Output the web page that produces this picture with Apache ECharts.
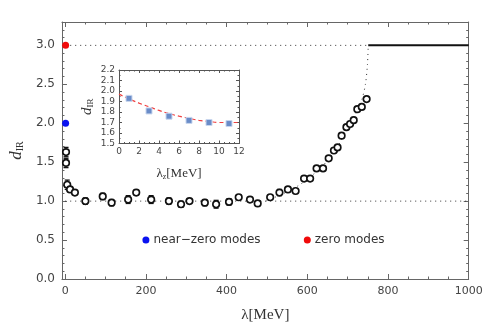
<!DOCTYPE html>
<html><head><meta charset="utf-8">
<script src="https://cdn.jsdelivr.net/npm/echarts@6/dist/echarts.min.js"></script>
<style>html,body{margin:0;padding:0;background:#fff}#c{width:491px;height:328px}</style>
</head><body><div id="c"></div>
<script>
// Main data: lambda [MeV], d_IR, error
const lam = [2, 2, 5, 12, 24, 50, 93, 115, 156, 176, 213, 257, 287, 308, 346, 374, 406, 430, 458, 477, 508, 531, 552, 571, 592, 607, 623, 639, 653, 666, 675, 685, 697, 706, 715, 724, 735, 747];
const dIR = [1.63, 1.49, 1.21, 1.15, 1.11, 1.00, 1.06, 0.98, 1.02, 1.11, 1.02, 1.00, 0.96, 1.00, 0.98, 0.96, 0.99, 1.05, 1.02, 0.97, 1.05, 1.11, 1.15, 1.13, 1.29, 1.29, 1.42, 1.42, 1.55, 1.65, 1.69, 1.84, 1.95, 1.99, 2.04, 2.18, 2.21, 2.31];
const dErr = [0.06, 0.06, 0.06, 0.03, 0.02, 0.04, 0.04, 0.04, 0.05, 0.03, 0.05, 0.04, 0.04, 0.03, 0.04, 0.05, 0.04, 0.03, 0.02, 0.03, 0.02, 0.04, 0.03, 0.03, 0.02, 0.02, 0.02, 0.02, 0.02, 0.02, 0.02, 0.02, 0.02, 0.02, 0.02, 0.02, 0.02, 0.02];
// Dotted curve (fit) up to d=3
const curveX = [497, 520, 550, 575, 600, 625, 650, 675, 700, 720, 735, 744, 749, 751];
const curveY = [1.00, 1.05, 1.12, 1.19, 1.28, 1.39, 1.52, 1.70, 1.93, 2.12, 2.30, 2.50, 2.75, 3.00];
// Reference lines
const lineOneX = [0, 1000];
const lineOneY = [1, 1];
const lineThreeDotX = [0, 751];
const lineThreeSolidX = [751, 1000];
const lineThreeY = [3, 3];
// Special points
const zeroModeX = 1, zeroModeY = 3.0;
const nearZeroX = 1, nearZeroY = 2.0;
// In-plot key
const keyX = [200, 600];
const keyY = [0.5, 0.5];
const keyText = ['near\u2212zero modes', 'zero modes'];
const keyColor = ['#0a12f0', '#f00a0a'];
// Inset data
const insX = [1, 3, 5, 7, 9, 11];
const insY = [1.93, 1.81, 1.76, 1.72, 1.70, 1.69];
const insErr = [0.01, 0.01, 0.01, 0.01, 0.01, 0.01];
const insFitX = [0, 1, 2, 3, 4, 5, 6, 7, 8, 9, 10, 11, 12];
const insFitY = [1.97, 1.925, 1.885, 1.85, 1.815, 1.785, 1.76, 1.74, 1.72, 1.71, 1.70, 1.70, 1.70];
// Ticks
const xMajor = [0, 200, 400, 600, 800, 1000];
const yMajor = [0, 0.5, 1.0, 1.5, 2.0, 2.5, 3.0];
const xMinor = []; for (let i = 0; i <= 20; i++) xMinor.push(i * 50);
const yMinor = []; for (let i = 0; i <= 33; i++) yMinor.push(Math.round(i) / 10);

const axisCol = '#666';
const labCol = '#444';
const tickFont = {fontFamily: 'DejaVu Sans', fontSize: 11, color: labCol};

function mkX(grid, pos, vals, len, show, extra) {
  return Object.assign({
    type: 'value', gridIndex: grid, position: pos, min: -8, max: 1000,
    axisLine: {show: show, onZero: false, lineStyle: {color: axisCol, width: 1}},
    axisTick: {show: true, inside: true, length: len, customValues: vals, lineStyle: {color: axisCol}},
    axisLabel: {show: false, customValues: vals},
    splitLine: {show: false}
  }, extra || {});
}
function mkY(grid, pos, vals, len, show, extra) {
  return Object.assign({
    type: 'value', gridIndex: grid, position: pos, min: 0, max: 3.3,
    axisLine: {show: show, onZero: false, lineStyle: {color: axisCol, width: 1}},
    axisTick: {show: true, inside: true, length: len, customValues: vals, lineStyle: {color: axisCol}},
    axisLabel: {show: false, customValues: vals},
    splitLine: {show: false}
  }, extra || {});
}

const insAx = (pos, isX, labels) => {
  const base = {
    type: 'value', gridIndex: 1, position: pos,
    axisLine: {show: true, onZero: false, lineStyle: {color: '#555', width: 1}},
    axisTick: {show: true, inside: true, length: 3, lineStyle: {color: '#555'}},
    minorTick: {show: true, splitNumber: isX ? 4 : 2, length: 1.5, lineStyle: {color: '#555'}},
    axisLabel: {show: labels, fontFamily: 'DejaVu Sans', fontSize: 9, color: labCol, margin: 4},
    splitLine: {show: false}
  };
  if (isX) { base.min = 0; base.max = 12; base.interval = 2; }
  else { base.min = 1.5; base.max = 2.2; base.interval = 0.1;
    base.axisLabel.formatter = v => v.toFixed(1); }
  return base;
};

const mainPts = lam.map((x, i) => [x, dIR[i], dErr[i]]);
const insPts = insX.map((x, i) => [x, insY[i], insErr[i]]);

function errRender(capW, col, lw) {
  return function (params, api) {
    const x = api.value(0), y = api.value(1), e = api.value(2);
    const top = api.coord([x, y + e]);
    const bot = api.coord([x, y - e]);
    return {
      type: 'group',
      children: [
        {type: 'line', shape: {x1: top[0], y1: top[1], x2: bot[0], y2: bot[1]}, style: {stroke: col, lineWidth: lw}},
        {type: 'line', shape: {x1: top[0] - capW, y1: top[1], x2: top[0] + capW, y2: top[1]}, style: {stroke: col, lineWidth: lw}},
        {type: 'line', shape: {x1: bot[0] - capW, y1: bot[1], x2: bot[0] + capW, y2: bot[1]}, style: {stroke: col, lineWidth: lw}}
      ]
    };
  };
}

const chart = echarts.init(document.getElementById('c'), null, {renderer: 'canvas'});
chart.setOption({
  animation: false,
  backgroundColor: '#fff',
  grid: [
    {left: 46.7, right: 22.3, top: 22, bottom: 45.3},
    {left: 119, top: 70, width: 120, height: 73.5}
  ],
  xAxis: [
    mkX(0, 'bottom', xMajor, 5, true, {
      axisLabel: {show: true, customValues: xMajor, ...tickFont, margin: 7, formatter: v => String(v)},
      name: '\u03bb[MeV]', nameLocation: 'middle', nameGap: 29,
      nameTextStyle: {fontFamily: 'Liberation Serif', fontSize: 15, color: '#333'}
    }),
    mkX(0, 'top', xMajor, 5, true),
    mkX(0, 'bottom', xMinor, 2.5, false),
    mkX(0, 'top', xMinor, 2.5, false),
    Object.assign(insAx('bottom', true, true), {
      name: '{l|\u03bb}{s|z}{l|[MeV]}', nameLocation: 'middle', nameGap: 22,
      nameTextStyle: {rich: {
        l: {fontFamily: 'Liberation Serif', fontSize: 13, color: '#333', lineHeight: 15, verticalAlign: 'bottom'},
        s: {fontFamily: 'Liberation Serif', fontSize: 8, color: '#333', lineHeight: 11, verticalAlign: 'bottom'}
      }}
    }),
    insAx('top', true, false)
  ],
  yAxis: [
    mkY(0, 'left', yMajor, 5, true, {
      axisLabel: {show: true, customValues: yMajor, ...tickFont, fontSize: 12, margin: 7, formatter: v => v.toFixed(1)},
      name: '{d|d}{s|IR}', nameLocation: 'middle', nameGap: 30,
      nameTextStyle: {rich: {
        d: {fontFamily: 'Liberation Serif', fontStyle: 'italic', fontSize: 17, color: '#333', lineHeight: 18, verticalAlign: 'bottom'},
        s: {fontFamily: 'Liberation Serif', fontSize: 10, color: '#333', lineHeight: 12, verticalAlign: 'bottom'}
      }}
    }),
    mkY(0, 'right', yMajor, 5, true),
    mkY(0, 'left', yMinor, 2.5, false),
    mkY(0, 'right', yMinor, 2.5, false),
    Object.assign(insAx('left', false, true), {
      name: '{d|d}{s|IR}', nameLocation: 'middle', nameGap: 24,
      nameTextStyle: {rich: {
        d: {fontFamily: 'Liberation Serif', fontStyle: 'italic', fontSize: 15, color: '#333', lineHeight: 16, verticalAlign: 'bottom'},
        s: {fontFamily: 'Liberation Serif', fontSize: 9, color: '#333', lineHeight: 11, verticalAlign: 'bottom'}
      }}
    }),
    insAx('right', false, false)
  ],
  series: [
    {type: 'line', xAxisIndex: 0, yAxisIndex: 0, data: lineOneX.map((x, i) => [x, lineOneY[i]]),
      symbol: 'none', lineStyle: {color: '#333', width: 1, type: [1, 4]}, z: 1},
    {type: 'line', xAxisIndex: 0, yAxisIndex: 0, data: lineThreeDotX.map((x, i) => [x, lineThreeY[i]]),
      symbol: 'none', lineStyle: {color: '#333', width: 1, type: [1, 4]}, z: 1},
    {type: 'line', xAxisIndex: 0, yAxisIndex: 0, data: lineThreeSolidX.map((x, i) => [x, lineThreeY[i]]),
      symbol: 'none', lineStyle: {color: '#111', width: 2}, z: 1},
    {type: 'line', xAxisIndex: 0, yAxisIndex: 0, data: curveX.map((x, i) => [x, curveY[i]]),
      symbol: 'none', smooth: 0.3, lineStyle: {color: '#333', width: 1, type: [1, 4]}, z: 1},
    {type: 'custom', xAxisIndex: 0, yAxisIndex: 0, data: mainPts, renderItem: errRender(2.5, '#111', 1.3), z: 2},
    {type: 'scatter', xAxisIndex: 0, yAxisIndex: 0, data: mainPts, symbol: 'circle', symbolSize: 6.5,
      itemStyle: {color: '#fff', borderColor: '#111', borderWidth: 1.7, opacity: 1}, z: 3},
    {type: 'scatter', xAxisIndex: 0, yAxisIndex: 0, data: [[zeroModeX, zeroModeY]], symbolSize: 7,
      itemStyle: {color: keyColor[1], opacity: 1}, z: 4},
    {type: 'scatter', xAxisIndex: 0, yAxisIndex: 0, data: [[nearZeroX, nearZeroY]], symbolSize: 7,
      itemStyle: {color: keyColor[0], opacity: 1}, z: 4},
    {type: 'scatter', xAxisIndex: 0, yAxisIndex: 0, symbolSize: 7, z: 4,
      data: keyX.map((x, i) => ({value: [x, keyY[i]], itemStyle: {color: keyColor[i], opacity: 1},
        label: {show: true, position: 'right', distance: 4, formatter: keyText[i],
          fontFamily: 'DejaVu Sans', fontSize: 12, color: '#333'}}))},
    // inset
    {type: 'line', xAxisIndex: 4, yAxisIndex: 4, data: insFitX.map((x, i) => [x, insFitY[i]]),
      symbol: 'none', smooth: true, lineStyle: {color: '#f04040', width: 1.2, type: [4, 3]}, z: 5},
    {type: 'custom', xAxisIndex: 4, yAxisIndex: 4, data: insPts, renderItem: errRender(1.5, '#6a8cc8', 1), z: 6},
    {type: 'scatter', xAxisIndex: 4, yAxisIndex: 4, data: insPts, symbol: 'rect', symbolSize: 6,
      itemStyle: {color: '#6a8cc8', borderColor: '#c8d6ee', borderWidth: 1, opacity: 1}, z: 7}
  ]
});
</script></body></html>
